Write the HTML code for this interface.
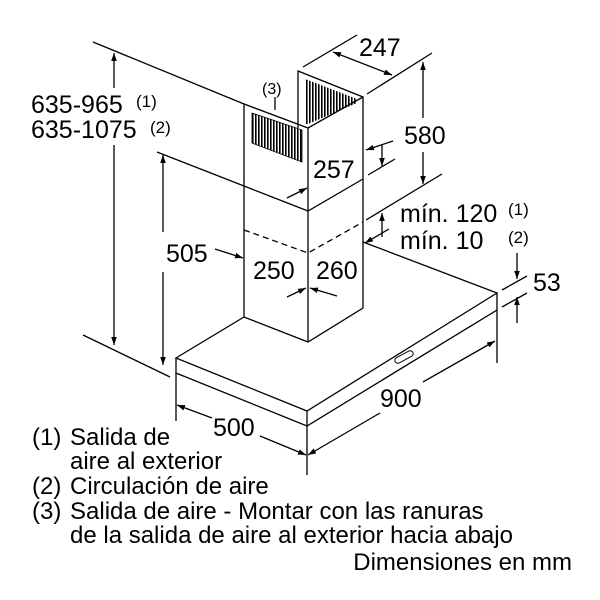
<!DOCTYPE html>
<html><head><style>html,body{margin:0;padding:0;background:#fff}svg{display:block}</style></head><body>
<svg width="600" height="600" viewBox="0 0 600 600" xmlns="http://www.w3.org/2000/svg" font-family="Liberation Sans, Arial, sans-serif" fill="none" stroke="#000" stroke-width="1.3">
<defs>
<marker id="a" viewBox="0 0 10 10" refX="10" refY="5" markerWidth="8" markerHeight="8" orient="auto-start-reverse" markerUnits="userSpaceOnUse"><path d="M0,1.5 L10,5 L0,8.5z" fill="#000" stroke="none"/></marker>
<pattern id="sl" width="3" height="10" patternUnits="userSpaceOnUse"><rect x="0" y="0" width="1.6" height="10" fill="#000" stroke="none"/></pattern>
</defs>
<polygon points="252,113 302,130 302,162 252,143" fill="url(#sl)" stroke="none"/>
<polygon points="305,79 357,99 357,103 308,124 305,124" fill="url(#sl)" stroke="none"/>
<polygon points="252,113 302,130 302,162 252,143" stroke-width="0.8"/>
<polyline points="298,128 298,71 363,97 363,308 308,342 244,317 244,104 308,128 363,97"/>
<line x1="308" y1="128" x2="308" y2="342"/>
<polyline points="244,186 308,211 363,179"/>
<polyline points="244,230 308,253 363,222" stroke-dasharray="6,4"/>
<polyline points="244,317 176,358 307,411 497,293 497,310 307,426 176,373 176,358"/>
<line x1="307" y1="411" x2="307" y2="426"/>
<line x1="363" y1="242" x2="497" y2="293"/>
<rect x="394" y="354" width="20" height="6" rx="3" transform="rotate(-28 404 357)" stroke-width="1"/>
<line x1="93" y1="42" x2="244" y2="104"/>
<line x1="83" y1="335" x2="170" y2="377"/>
<line x1="114" y1="53" x2="114" y2="88" marker-start="url(#a)"/>
<line x1="114" y1="145" x2="114" y2="345" marker-end="url(#a)"/>
<line x1="157" y1="152" x2="244" y2="186"/>
<line x1="163" y1="155" x2="163" y2="232" marker-start="url(#a)"/>
<line x1="163" y1="272" x2="163" y2="365" marker-end="url(#a)"/>
<line x1="303" y1="67" x2="357" y2="35"/>
<line x1="367" y1="94" x2="432" y2="53"/>
<line x1="333" y1="52" x2="392" y2="75" marker-start="url(#a)" marker-end="url(#a)"/>
<line x1="366" y1="220" x2="442" y2="174"/>
<line x1="423" y1="62" x2="423" y2="118" marker-start="url(#a)"/>
<line x1="423" y1="152" x2="423" y2="184" marker-end="url(#a)"/>
<line x1="393" y1="141" x2="366" y2="150" marker-end="url(#a)"/>
<line x1="368" y1="175" x2="395" y2="159"/>
<line x1="382" y1="145" x2="382" y2="166" marker-end="url(#a)"/>
<line x1="287" y1="198" x2="307" y2="188" marker-end="url(#a)"/>
<line x1="382" y1="237" x2="382" y2="213" marker-end="url(#a)"/>
<line x1="389" y1="229" x2="365" y2="243" marker-end="url(#a)"/>
<line x1="215" y1="249" x2="243" y2="258" marker-end="url(#a)"/>
<line x1="287" y1="297" x2="306" y2="288" marker-end="url(#a)"/>
<line x1="337" y1="296" x2="310" y2="288" marker-end="url(#a)"/>
<line x1="502" y1="290" x2="527" y2="276"/>
<line x1="502" y1="307" x2="527" y2="293"/>
<line x1="517" y1="253" x2="517" y2="279" marker-end="url(#a)"/>
<line x1="517" y1="323" x2="517" y2="297" marker-end="url(#a)"/>
<line x1="497" y1="310" x2="497" y2="363"/>
<line x1="176" y1="373" x2="176" y2="421"/>
<line x1="307" y1="426" x2="307" y2="475"/>
<line x1="495" y1="341" x2="423" y2="382" marker-start="url(#a)"/>
<line x1="380" y1="413" x2="308" y2="455" marker-end="url(#a)"/>
<line x1="177" y1="405" x2="212" y2="418" marker-start="url(#a)"/>
<line x1="260" y1="436" x2="306" y2="455" marker-end="url(#a)"/>
<line x1="275" y1="110" x2="275" y2="97"/>
<g fill="#000" stroke="none" font-size="25">
<text x="31" y="113">635-965</text>
<text x="31" y="138">635-1075</text>
<text x="136" y="107" font-size="17">(1)</text>
<text x="150" y="133" font-size="17">(2)</text>
<text x="262" y="94" font-size="16">(3)</text>
<text x="359" y="56">247</text>
<text x="404" y="144">580</text>
<text x="313" y="178">257</text>
<text x="166" y="262">505</text>
<text x="253" y="279">250</text>
<text x="316" y="279">260</text>
<text x="400" y="222">mín. 120</text>
<text x="400" y="249">mín. 10</text>
<text x="508" y="215" font-size="17">(1)</text>
<text x="508" y="243" font-size="17">(2)</text>
<text x="533" y="291">53</text>
<text x="380" y="407">900</text>
<text x="213" y="436">500</text>
<g font-size="24">
<text x="32" y="445">(1)</text><text x="70" y="445">Salida de</text>
<text x="70" y="469">aire al exterior</text>
<text x="32" y="494">(2)</text><text x="70" y="494">Circulación de aire</text>
<text x="32" y="519">(3)</text><text x="70" y="519">Salida de aire - Montar con las ranuras</text>
<text x="70" y="543">de la salida de aire al exterior hacia abajo</text>
<text x="572" y="570" text-anchor="end">Dimensiones en mm</text>
</g>
</g>
</svg>
</body></html>
